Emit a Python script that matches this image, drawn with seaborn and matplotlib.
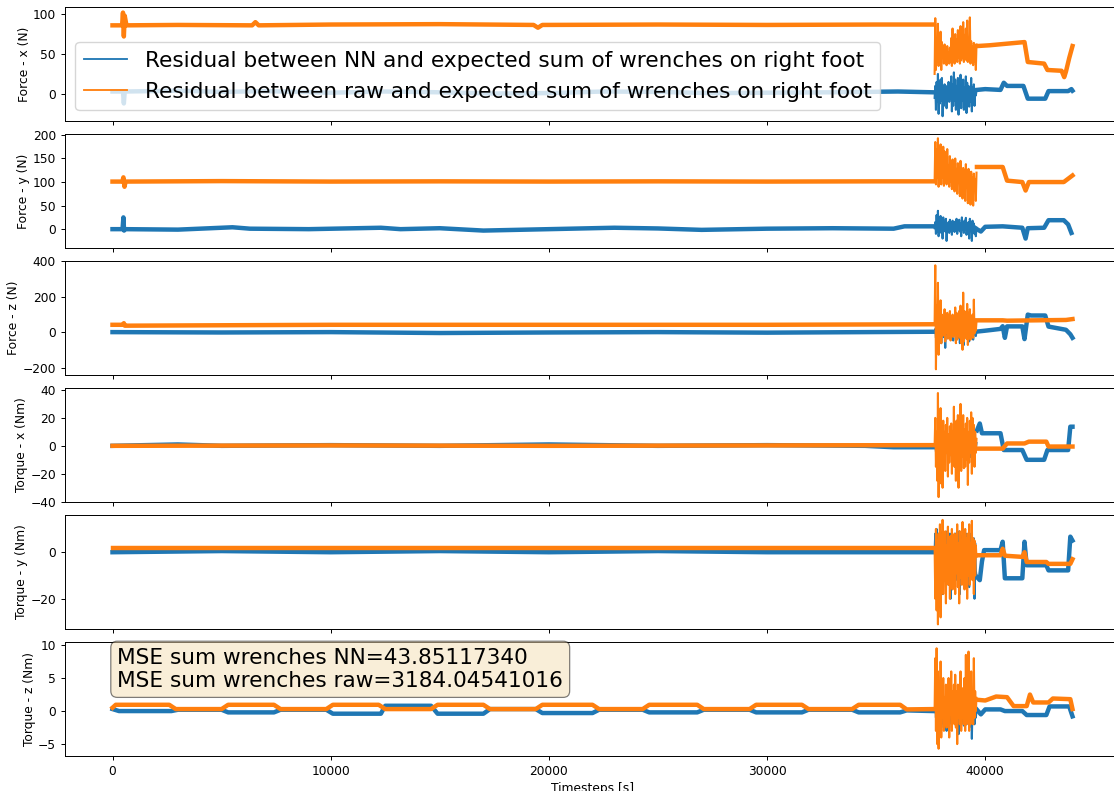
import numpy as np
import pandas as pd
import matplotlib
matplotlib.use("Agg")
import matplotlib.pyplot as plt
from matplotlib.lines import Line2D
import seaborn as sns

# ---------------------------------------------------------------------------
# Residual traces (knots: timestep -> residual) for each wrench component.
# "pre" = calm walking phase, "burst" = oscillating phase, "post" = final phase
# ---------------------------------------------------------------------------
BURST_START, BURST_END = 37680, 39600

# Force - x
fx_nn_pre_t = [0, 480, 520, 560, 3000, 5000, 7000, 10000, 12500, 15000, 17500, 20000,
               22500, 25000, 27500, 30000, 33000, 36000, 37600]
fx_nn_pre_v = [3, 3, -12, 3, 4, 2.5, 3.5, 1.5, 3, 2, 0.5, 1, 3, 2.5, 1, 1.5, 2, 3, 2]
fx_nn_burst = [-5, 10, -20, 15, -10, 25, -25, 8, -12, 18, -8, 20, -28, 5, -15, 12,
               -5, 10, -18, 8, -8, 15, -10, 5, -6, 22, -22, 12, -15, 27, -8, 18,
               -20, 10, -12, 20, -26, 15, -10, 24, -18, 12, -8, 18, -20, 8, -5, 22,
               -24, 14, -12, 10, -16, 6, -10, 20, -22, 8, -6, 12, -15, 5, -2, 4]
fx_nn_post_t = [39620, 40000, 40700, 40850, 41000, 41750, 41950, 42750, 42900, 43800, 43950, 44000]
fx_nn_post_v = [5, 6, 5, 14, 10, 10, -6, -6, 3.5, 3.5, 6, 4]

fx_raw_pre_t = [0, 440, 480, 520, 560, 640, 3000, 6400, 6550, 6700, 10000, 15000,
                19300, 19500, 19700, 25000, 30000, 35000, 37650]
fx_raw_pre_v = [86, 86, 102, 72, 98, 86, 86.5, 86, 90, 86, 87, 87.5,
                86.5, 83, 86.5, 87, 86.5, 87, 87]
fx_raw_burst = [25, 95, 30, 70, 40, 88, 35, 60, 42, 78, 30, 65, 45, 58, 38, 62,
                40, 55, 36, 60, 44, 52, 38, 58, 40, 70, 35, 82, 42, 62, 38, 75,
                45, 68, 40, 80, 46, 72, 38, 85, 42, 78, 45, 90, 40, 74, 48, 82,
                42, 92, 40, 70, 44, 96, 38, 66, 42, 60, 36, 64, 40, 58, 30, 62]
fx_raw_post_t = [39620, 40200, 41000, 41800, 41950, 42700, 42850, 43500, 43620, 43700, 43850, 44000]
fx_raw_post_v = [60, 61, 63, 65, 40, 38, 30, 29, 21, 28, 45, 60]

# Force - y
fy_nn_pre_t = [0, 460, 500, 530, 560, 3000, 5500, 6300, 9000, 12300, 13200, 15000, 17000,
               20000, 23000, 25000, 27000, 30000, 33000, 35800, 36300, 37600]
fy_nn_pre_v = [0, 0, 25, -3, 0, -1, 4, 1, 0, 3, 0, 2, -3, 0, 3, 1.5, -1.5, 1, 2, 1, 6, 6]
fy_nn_burst = [2, 15, -10, 30, -5, 39, -15, 20, 0, 28, -8, 18, -20, 25, 2, 12,
               -5, 22, -25, 10, 0, 15, -8, 20, -3, 12, -12, 18, 0, 10, -6, 16,
               -2, 22, -10, 14, 0, 20, -5, 12, -15, 25, -2, 10, -8, 18, 0, 24,
               -12, 8, -5, 15, -20, 22, 0, 10, -25, 18, -5, 12, -10, 6, -15, 3]
fy_nn_post_t = [39620, 39800, 40000, 40800, 41700, 41850, 41950, 42700, 42900, 43600, 43800, 43950]
fy_nn_post_v = [0, -5, 5, 6, 3, -20, 2, 3, 19, 19, 10, -8]

fy_raw_pre_t = [0, 450, 500, 550, 600, 5000, 10000, 15000, 20000, 25000, 30000, 35000, 37650]
fy_raw_pre_v = [101, 101, 110, 90, 101, 102, 101, 101.5, 101, 101.5, 101, 101.5, 101.5]
fy_raw_burst = [100, 185, 95, 170, 110, 193, 90, 160, 105, 180, 95, 150, 110, 175, 92, 165,
                100, 140, 95, 170, 108, 135, 90, 155, 100, 130, 85, 148, 98, 125, 80, 150,
                95, 128, 75, 140, 100, 120, 70, 145, 95, 118, 65, 130, 90, 125, 60, 138,
                92, 115, 55, 128, 88, 112, 52, 122, 90, 110, 50, 118, 95, 105, 60, 120]
fy_raw_post_t = [39620, 40800, 41000, 41700, 41850, 42000, 43600, 44000]
fy_raw_post_v = [132, 132, 103, 100, 82, 100, 100, 114]

# Force - z
fz_nn_pre_t = [0, 5000, 10000, 15000, 20000, 25000, 30000, 37600]
fz_nn_pre_v = [2, 0, 2, -3, 0, 2, -1, 4]
fz_nn_burst = [5, 20, -30, 30, -20, 43, -40, 10, -10, 25, -60, 15, -5, 30, -25, 8,
               -86, 20, 0, 35, -15, 10, -30, 28, -5, 15, -20, 32, -45, 12, 0, 25,
               -10, 18, -35, 30, -5, 15, -60, 22, 0, 35, -20, 10, -70, 28, -10, 15,
               -30, 25, -5, 20, -50, 10, 0, 30, -15, 12, -40, 18, -5, 10, -20, 5]
fz_nn_post_t = [39620, 40000, 40700, 40800, 40900, 41000, 41700, 41800, 41950, 42100,
                42750, 42900, 43700, 43900, 44000]
fz_nn_post_v = [5, 10, 20, 35, -30, 34, 34, -37, 100, 95, 95, 33, 15, -10, -30]

fz_raw_pre_t = [0, 480, 520, 560, 10000, 20000, 30000, 37650]
fz_raw_pre_v = [43, 43, 52, 38, 43, 43, 43, 46]
fz_raw_burst = [45, 376, -206, 150, -40, 278, -125, 120, -30, 180, -60, 100, -20, 90, -10, 130,
                -50, 80, 0, 110, -35, 95, -15, 120, -45, 85, -5, 100, -25, 75, -10, 140,
                -60, 110, -40, 90, -20, 120, -30, 150, -60, 100, -97, 223, -50, 120, -20, 95,
                -35, 160, -70, 110, -25, 130, -40, 90, -10, 100, -30, 184, -5, 70, 10, 60]
fz_raw_post_t = [39620, 40800, 41000, 43700, 44000]
fz_raw_post_v = [68, 68, 66, 70, 75]

# Torque - x
tx_nn_pre_t = [0, 3000, 5000, 10000, 15000, 20000, 25000, 30000, 34500, 35800, 37600]
tx_nn_pre_v = [0, 1, 0, 0.5, 0, 1, 0, 0.5, 0, -1, -1]
tx_nn_burst = [-0.5, 2, -4, 3, -6, 4, -8, 2, -3, 5, -5, 1, -10, 3, -2, 4,
               -6, 2, -4, 5, -3, 1, -7, 3, -2, 4, -8, 2, -5, 3, -3, 5,
               -6, 2, -4, 3, -9, 1, -2, 4, -5, 2, -3, 5, -7, 3, -10, 2,
               -4, 4, -6, 1, -3, 3, -8, 2, -5, 4, -3, 2, -6, 1, -2, 2]
tx_nn_post_t = [39620, 39750, 39850, 40000, 40700, 40850, 41700, 41900, 42700, 42850, 43800, 43900, 44000]
tx_nn_post_v = [11, 16, 9, 9, 9, -3, -3, -10, -10, -3, -3, 13.7, 13.7]

tx_raw_pre_t = [0, 10000, 20000, 30000, 37650]
tx_raw_pre_v = [0, 0.3, 0, 0.3, 0.5]
tx_raw_burst = [0, 20, -15, 10, -25, 37.8, -36.7, 15, -20, 27, -27, 12, -30, 18, -8, 10,
                -18, 15, -5, 20, -22, 8, -12, 14, -6, 16, -20, 10, -8, 28, -15, 12,
                -25, 18, -10, 22, -30, 14, -12, 30, -18, 10, -8, 22, -16, 12, -15, 16,
                -10, 20, -28, 10, -12, 18, -5, 24, -20, 20, -13, 15, -15, 10, -5, 5]
tx_raw_post_t = [39620, 40800, 41000, 41800, 42000, 42800, 42900, 44000]
tx_raw_post_v = [-2, -2, 1.7, 1.7, 3, 3, -0.5, -0.5]

# Torque - y
ty_nn_pre_t = [0, 5000, 10000, 15000, 20000, 25000, 30000, 37600]
ty_nn_pre_v = [0, 0.5, 0, 0.5, 0, 0.5, 0, 0]
ty_nn_burst = [1, 8, -10, 10, -15, 6, -24, 5, -8, 9, -12, 4, -18, 8, -6, 7,
               -10, 3, -14, 9, -5, 6, -12, 8, -20, 5, -8, 7, -15, 4, -6, 8,
               -10, 3, -12, 6, -5, 9, -18, 4, -8, 7, -10, 5, -14, 3, -6, 8,
               -12, 4, -9, 6, -15, 5, -7, 8, -10, 3, -12, 6, -20, 4, -8, -10]
ty_nn_post_t = [39620, 39750, 39850, 39950, 40700, 40800, 40900, 41700, 41800, 41900,
                42800, 42900, 43800, 43900, 44000]
ty_nn_post_v = [-10.7, -12, -4, 0.9, 0.9, 4.5, -11.2, -11.2, 4.5, -5.6, -5.6, -7.8, -7.8, 6.7, 5]

ty_raw_pre_t = [0, 10000, 20000, 30000, 37650]
ty_raw_pre_v = [2, 2, 2, 2, 2]
ty_raw_burst = [2, -20, 10, -25, 5, -31, 8, -15, 12, -28, 6, -10, 13.9, -18, 4, -12,
                9, -22, 3, -8, 11, -14, 5, -20, 7, -10, 10, -16, 2, -12, 8, -18,
                6, -9, 12, -15, 4, -22, 9, -11, 5, -14, 13, -8, 3, -16, 10, -12,
                6, -20, 8, -10, 12, -14, 4, -9, 13.5, -12, 6, -18, 5, -10, 3, -2]
ty_raw_post_t = [39620, 40700, 40800, 40900, 41700, 41800, 41900, 42800, 42900, 43900, 44000]
ty_raw_post_v = [-1.3, -1.3, 1.5, -1.5, -2, 0, -4.2, -4.2, -5, -5, -3]

# Torque - z
tz_nn_pre_t = [0, 300, 2700, 3000, 5000, 5300, 7400, 7700, 9800, 10100, 12300, 12500,
               14600, 14900, 17000, 17300, 19400, 19700, 22000, 22300, 24300, 24600,
               26800, 27100, 29200, 29500, 31600, 31900, 33900, 34200, 36100, 36400, 37600]
tz_nn_pre_v = [0.3, 0.0, 0.0, 0.2, 0.2, -0.2, -0.2, 0.2, 0.2, -0.4, -0.4, 0.8,
               0.8, -0.4, -0.4, 0.3, 0.3, -0.3, -0.3, 0.2, 0.2, -0.2,
               -0.2, 0.2, 0.2, -0.2, -0.2, 0.2, 0.2, -0.2, -0.2, 0.1, 0.0]
tz_nn_burst = [0, 1, -1, 1.5, -2, 0.5, -3, 1, -1.5, 1.75, -2.5, 0.5, -1, 1.2, -2, 0,
               -1.5, 1, -3, 0.8, -1, 1.5, -2, 0.5, -1.2, 1, -2.5, 0.5, -1, 1.2, -1.8, 0.8,
               -1, 1.5, -2, 0.5, -3.5, 1, -1, 1.2, -2, 0.5, -1.5, 1, -2.2, 0.8, -1, 1.5,
               -2, 0.5, -1.2, 1, -2.5, 0.5, -1, 1.2, -4.2, 0.5, -1, 1, -2, 0.5, -1, 0]
tz_nn_post_t = [39620, 39800, 40000, 40700, 40900, 41700, 41900, 42800, 42950, 43850, 44000]
tz_nn_post_v = [0.2, -0.5, 0.25, 0.25, 0.0, 0.0, -0.6, -0.6, 0.7, 0.7, -0.8]

tz_raw_pre_t = [0, 150, 2600, 2900, 5000, 5300, 7400, 7700, 9800, 10100, 12200, 12500,
                14600, 14900, 17000, 17300, 19400, 19700, 22000, 22300, 24300, 24600,
                26800, 27100, 29200, 29500, 31600, 31900, 33900, 34200, 36100, 36400, 37650]
tz_raw_pre_v = [0.5, 0.95, 0.95, 0.3, 0.3, 0.95, 0.95, 0.3, 0.3, 0.95, 0.95, 0.3,
                0.3, 0.95, 0.95, 0.3, 0.3, 0.95, 0.95, 0.3, 0.3, 0.95,
                0.95, 0.3, 0.3, 0.95, 0.95, 0.3, 0.3, 0.95, 0.95, 0.25, 0.3]
tz_raw_burst = [0.3, 8, -3, 9.5, -5, 6, -5.7, 4, -2, 7.5, -4, 3, -1, 5, -3, 2,
                0, 4, -2.5, 3, -1, 5, -4, 2, 0, 6, -3, 3, -1, 4, -2, 5.5,
                -2.5, 3, -5, 4, -1, 3, -2, 6, -3, 2, -1, 3.5, -2, 5, -3, 8.5,
                -2, 4, -1, 9, -3, 4, -2, 6, -1, 3, -2, 8, -1, 3, 0, 2]
tz_raw_post_t = [39650, 40000, 40500, 41000, 41300, 41900, 42050, 42200, 42900, 43100, 43900, 44000]
tz_raw_post_v = [1.7, 1.6, 2.2, 2.1, 0.75, 0.75, 2.5, 1.3, 1.3, 1.9, 1.8, 0.3]

y_labels = ["Force - x (N)", "Force - y (N)", "Force - z (N)",
            "Torque - x (Nm)", "Torque - y (Nm)", "Torque - z (Nm)"]
y_limits = [(-34, 109), (-40, 202), (-238, 400), (-40.2, 41.4), (-33, 16), (-6.8, 10.45)]
y_ticks = [[0, 50, 100], [0, 50, 100, 150, 200], [-200, 0, 200, 400],
           [-40, -20, 0, 20, 40], [-20, 0], [-5, 0, 5, 10]]
x_ticks = [0, 10000, 20000, 30000, 40000]

legend_labels = ["Residual between NN and expected sum of wrenches on right foot",
                 "Residual between raw and expected sum of wrenches on right foot"]
mse_nn = 43.85117340
mse_raw = 3184.04541016


def trace_frame(label, pre_t, pre_v, burst_v, post_t, post_v):
    """Long-form frame of one residual trace, split into calm / burst segments."""
    bt = np.linspace(BURST_START, BURST_END, len(burst_v))
    parts = [(pre_t, pre_v, "calm", 0), (bt, burst_v, "burst", 1), (post_t, post_v, "calm", 2)]
    frames = []
    for t, v, phase, k in parts:
        frames.append(pd.DataFrame({"t": np.asarray(t, float), "v": np.asarray(v, float),
                                    "series": label, "phase": phase,
                                    "seg": f"{label}-{k}"}))
    return pd.concat(frames, ignore_index=True)


panels = [
    (fx_nn_pre_t, fx_nn_pre_v, fx_nn_burst, fx_nn_post_t, fx_nn_post_v,
     fx_raw_pre_t, fx_raw_pre_v, fx_raw_burst, fx_raw_post_t, fx_raw_post_v),
    (fy_nn_pre_t, fy_nn_pre_v, fy_nn_burst, fy_nn_post_t, fy_nn_post_v,
     fy_raw_pre_t, fy_raw_pre_v, fy_raw_burst, fy_raw_post_t, fy_raw_post_v),
    (fz_nn_pre_t, fz_nn_pre_v, fz_nn_burst, fz_nn_post_t, fz_nn_post_v,
     fz_raw_pre_t, fz_raw_pre_v, fz_raw_burst, fz_raw_post_t, fz_raw_post_v),
    (tx_nn_pre_t, tx_nn_pre_v, tx_nn_burst, tx_nn_post_t, tx_nn_post_v,
     tx_raw_pre_t, tx_raw_pre_v, tx_raw_burst, tx_raw_post_t, tx_raw_post_v),
    (ty_nn_pre_t, ty_nn_pre_v, ty_nn_burst, ty_nn_post_t, ty_nn_post_v,
     ty_raw_pre_t, ty_raw_pre_v, ty_raw_burst, ty_raw_post_t, ty_raw_post_v),
    (tz_nn_pre_t, tz_nn_pre_v, tz_nn_burst, tz_nn_post_t, tz_nn_post_v,
     tz_raw_pre_t, tz_raw_pre_v, tz_raw_burst, tz_raw_post_t, tz_raw_post_v),
]

# the figure is drawn at 0.88 of matplotlib's usual scale
S = 0.88
plt.rcParams.update({
    "font.size": 10 * S,
    "axes.linewidth": 0.8 * S,
    "xtick.major.size": 3.5 * S, "ytick.major.size": 3.5 * S,
    "xtick.major.width": 0.8 * S, "ytick.major.width": 0.8 * S,
    "xtick.major.pad": 3.5 * S, "ytick.major.pad": 3.5 * S,
    "axes.labelpad": 4.0 * S,
})

W, H = 1114, 791
fig, axes = plt.subplots(6, 1, sharex=True, figsize=(W / 100, H / 100), dpi=100)

# axes geometry in pixels (the right spine falls just outside the canvas)
left_px, width_px = 64.5, 1056.0
tops_px = [7, 134, 261, 388, 515, 642]
height_px = 114

nn_color, raw_color = "#1f77b4", "#ff7f0e"
palette = {legend_labels[0]: nn_color, legend_labels[1]: raw_color}

for i, ax in enumerate(axes):
    ax.set_position([left_px / W, 1 - (tops_px[i] + height_px) / H,
                     width_px / W, height_px / H])
    p = panels[i]
    df = pd.concat([trace_frame(legend_labels[0], *p[:5]),
                    trace_frame(legend_labels[1], *p[5:])], ignore_index=True)
    sns.lineplot(data=df, x="t", y="v", hue="series", units="seg", size="phase",
                 sizes={"calm": 3.2, "burst": 1.5}, estimator=None, sort=False,
                 palette=palette, ax=ax, legend=False)
    ax.set_ylim(*y_limits[i])
    ax.set_yticks(y_ticks[i])
    ax.set_ylabel(y_labels[i], labelpad=1.5)
    ax.set_xlabel("")

axes[-1].set_xlim(-2200, 46200)
axes[-1].set_xticks(x_ticks)
axes[-1].set_xlabel("Timesteps [s]")

handles = [Line2D([], [], color=nn_color, lw=1.5 * S), Line2D([], [], color=raw_color, lw=1.5 * S)]
axes[0].legend(handles, legend_labels, loc="lower left", fontsize=15.6)

axes[-1].text(0.05, 0.95,
              f"MSE sum wrenches NN={mse_nn:.8f}\nMSE sum wrenches raw={mse_raw:.8f}",
              transform=axes[-1].transAxes, fontsize=15.6, va="top",
              bbox=dict(boxstyle="round", facecolor="wheat", alpha=0.5, linewidth=S))

fig.savefig("out.png", dpi=100)
